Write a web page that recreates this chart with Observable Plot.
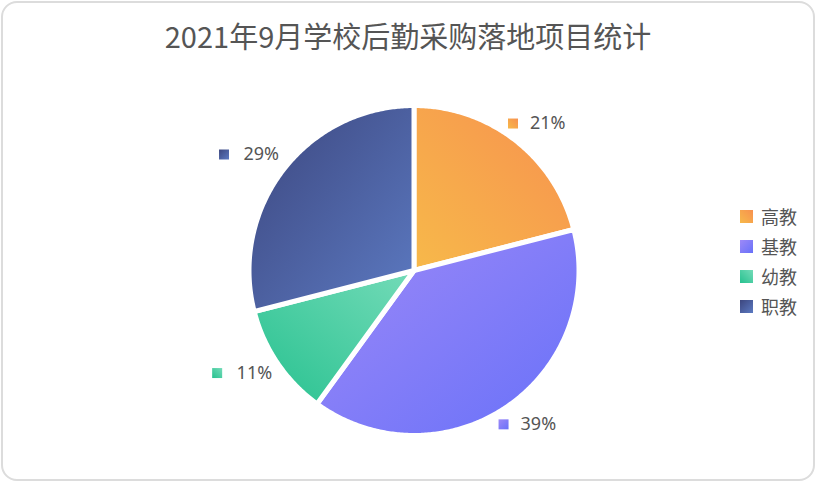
<!DOCTYPE html>
<html>
<head>
<meta charset="utf-8">
<script src="https://cdn.jsdelivr.net/npm/d3@7"></script>
<script src="https://cdn.jsdelivr.net/npm/@observablehq/plot@0.6"></script>
<style>
  html, body { margin: 0; padding: 0; background: #fff; }
  body { width: 816px; height: 482px; position: relative; overflow: hidden;
         font-family: "Noto Sans CJK SC", "Noto Sans", sans-serif; }
  #frame { position: absolute; left: 1px; top: 1px; width: 814px; height: 480px;
           box-sizing: border-box; border: 2px solid #dcdcdc; border-radius: 16px; }
  #title { position: absolute; left: 0; top: 20px; width: 816px; text-align: center;
           font-size: 29px; line-height: 30px; color: #555; white-space: nowrap; }
  #chart { position: absolute; left: 0; top: 70px; }
  #legend { position: absolute; left: 740px; top: 201px; }
  .row { height: 30px; display: flex; align-items: center; font-size: 18px; color: #555; }
  .sw { width: 13px; height: 13px; margin-right: 8px; }
</style>
</head>
<body>
<div id="frame"></div>
<div id="title"></div>
<div id="chart"></div>
<div id="legend"></div>
<script>
const title = "2021年9月学校后勤采购落地项目统计";
const categories = ["高教", "基教", "幼教", "职教"];
const values = [21, 39, 11, 29];
const gradFrom = ["#f7914f", "#9d89f7", "#74dbb8", "#3c467e"];
const gradTo   = ["#f7b94a", "#6871f9", "#26c18f", "#5c7ac2"];
const gradDir  = [[1, 0, 0, 1], [0, 0, 1, 1], [1, 0, 0, 1], [0, 0, 1, 1]];

// layout
const W = 816, H = 412;
const cx = 413.5, cy = 200, R = 165;
const labelR = 186 / R;

const arcs = d3.pie().sort(null)(values);

const slicePts = arcs.flatMap((a, i) => {
  const pts = [{x: 0, y: 0, i}];
  const n = Math.max(2, Math.ceil((a.endAngle - a.startAngle) / 0.01));
  for (let k = 0; k <= n; ++k) {
    const t = a.startAngle + (a.endAngle - a.startAngle) * k / n;
    pts.push({x: Math.sin(t), y: Math.cos(t), i});
  }
  pts.push({x: 0, y: 0, i});
  return pts;
});

const labels = arcs.map((a, i) => {
  const m = (a.startAngle + a.endAngle) / 2;
  return {x: labelR * Math.sin(m), y: labelR * Math.cos(m), i,
          text: values[i] + "%", right: Math.sin(m) >= 0};
});
const rightLabels = labels.filter(d => d.right);
const leftLabels = labels.filter(d => !d.right);

const grad = d => `url(#grad${d.i})`;

function defs() {
  const g = d3.create("svg:defs");
  categories.forEach((c, i) => {
    const lg = g.append("linearGradient").attr("id", "grad" + i)
      .attr("x1", gradDir[i][0]).attr("y1", gradDir[i][1])
      .attr("x2", gradDir[i][2]).attr("y2", gradDir[i][3]);
    lg.append("stop").attr("offset", 0).attr("stop-color", gradFrom[i]);
    lg.append("stop").attr("offset", 1).attr("stop-color", gradTo[i]);
  });
  return g.node();
}

const font = "'Noto Sans', 'Noto Sans CJK SC', sans-serif";
const sq = 10 / Math.sqrt(Math.PI);

const chart = Plot.plot({
  width: W, height: H,
  margin: 0,
  x: {domain: [-1, 1], range: [cx - R, cx + R], axis: null},
  y: {domain: [-1, 1], range: [cy + R, cy - R], axis: null},
  color: {type: "identity"},
  style: {fontFamily: font, background: "transparent", overflow: "visible"},
  marks: [
    defs,
    Plot.line(slicePts, {x: "x", y: "y", z: "i", fill: grad, stroke: "#fff",
      strokeWidth: 5, strokeLinejoin: "round", strokeLinecap: "round", curve: "linear"}),
    Plot.dot(rightLabels, {x: "x", y: "y", symbol: "square", r: sq, fill: grad, dx: -15}),
    Plot.text(rightLabels, {x: "x", y: "y", text: "text", textAnchor: "start", dx: 2,
      fontSize: 18, fill: "#555"}),
    Plot.dot(leftLabels, {x: "x", y: "y", symbol: "square", r: sq, fill: grad, dx: -43, dy: -2}),
    Plot.text(leftLabels, {x: "x", y: "y", text: "text", textAnchor: "end", dx: 12, dy: -2,
      fontSize: 18, fill: "#555"})
  ]
});
document.getElementById("chart").append(chart);
document.getElementById("title").textContent = title;

const legend = document.getElementById("legend");
categories.forEach((c, i) => {
  const row = document.createElement("div");
  row.className = "row";
  const sw = document.createElement("div");
  sw.className = "sw";
  const dir = gradDir[i][0] === 1 ? "to bottom left" : "to bottom right";
  sw.style.background = `linear-gradient(${dir}, ${gradFrom[i]}, ${gradTo[i]})`;
  const tx = document.createElement("span");
  tx.textContent = c;
  row.append(sw, tx);
  legend.append(row);
});
</script>
</body>
</html>
